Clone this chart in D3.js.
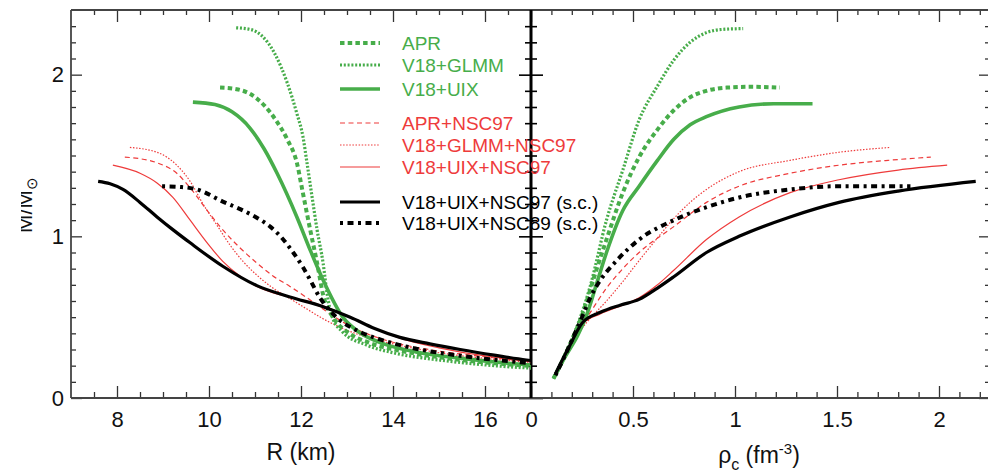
<!DOCTYPE html>
<html>
<head>
<meta charset="utf-8">
<script src="https://cdn.jsdelivr.net/npm/d3@7"></script>
<style>
  body { margin: 0; background: #fff; }
  svg { display: block; font-family: "Liberation Sans", Arial, Helvetica, sans-serif; }
</style>
</head>
<body>
<svg id="chart" width="988" height="476"></svg>
<script>
// ---- Mass–radius relations: [R (km), M/Msun] ----
const aprLeft = [[10.24,1.92],[10.6,1.91],[10.9,1.88],[11.2,1.81],[11.45,1.72],[11.7,1.6],[11.91,1.455],[12.04,1.27],[12.2,1.04],[12.35,0.835],[12.48,0.64],[12.72,0.49],[13.0,0.41],[13.5,0.34],[14.2,0.29],[15.2,0.245],[16.2,0.215],[17.5,0.19]];
const glmmLeft = [[10.59,2.29],[10.9,2.28],[11.15,2.24],[11.43,2.13],[11.7,1.95],[11.91,1.76],[12.04,1.62],[12.13,1.455],[12.24,1.245],[12.35,1.04],[12.48,0.835],[12.57,0.64],[12.68,0.5],[12.9,0.41],[13.4,0.33],[14,0.28],[15,0.235],[16,0.205],[17,0.185],[17.5,0.18]];
const uixLeft = [[9.65,1.83],[10.13,1.815],[10.5,1.77],[10.89,1.67],[11.2,1.54],[11.48,1.39],[11.91,1.12],[12.2,0.915],[12.48,0.73],[12.91,0.5],[13.3,0.4],[13.8,0.335],[14.5,0.285],[15.5,0.245],[16.5,0.215],[17.5,0.195]];
const apr97Left = [[8.17,1.49],[8.5,1.48],[8.87,1.455],[9.3,1.39],[9.59,1.3],[9.96,1.16],[10.3,1.04],[10.67,0.93],[11.04,0.835],[11.39,0.755],[11.76,0.69],[12.13,0.62],[12.48,0.55],[12.91,0.47],[13.5,0.39],[14,0.345],[15,0.29],[16,0.255],[17,0.225],[17.5,0.215]];
const glmm97Left = [[8.28,1.55],[8.87,1.52],[9.3,1.44],[9.59,1.34],[9.87,1.2],[10.17,1.07],[10.46,0.945],[10.74,0.845],[11.04,0.76],[11.39,0.68],[11.76,0.615],[12.13,0.55],[12.48,0.49],[12.91,0.43],[13.5,0.37],[14,0.335],[15,0.28],[16,0.245],[17,0.22],[17.5,0.21]];
const uix97Left = [[7.91,1.44],[8.5,1.39],[8.87,1.33],[9.22,1.24],[9.59,1.1],[9.96,0.96],[10.3,0.845],[10.67,0.755],[11.04,0.69],[11.4,0.65],[11.76,0.625],[12.48,0.57],[13.07,0.5],[13.6,0.43],[14.15,0.37],[15,0.31],[16,0.26],[17,0.23],[17.5,0.22]];
const uix97scLeft = [[7.59,1.34],[7.85,1.325],[8.13,1.29],[8.5,1.21],[8.87,1.12],[9.22,1.04],[9.59,0.96],[10.3,0.815],[11.04,0.695],[11.76,0.625],[12.48,0.565],[13.07,0.5],[13.6,0.43],[14.15,0.375],[14.8,0.335],[15.46,0.3],[16.2,0.265],[16.9,0.235],[17.5,0.22]];
const uix89scLeft = [[8.98,1.31],[9.4,1.305],[9.74,1.29],[10.3,1.215],[10.74,1.16],[11.04,1.115],[11.33,1.06],[11.6,0.985],[11.83,0.9],[12.04,0.81],[12.2,0.73],[12.4,0.625],[12.63,0.54],[12.85,0.48],[13.2,0.42],[13.8,0.355],[14.5,0.305],[15.5,0.26],[16.5,0.228],[17.5,0.205]];

// ---- Mass versus central density: [rho_c (fm^-3), M/Msun] ----
const aprRight = [[0.11,0.12],[0.18,0.3],[0.255,0.53],[0.32,0.79],[0.37,0.98],[0.45,1.27],[0.53,1.49],[0.62,1.66],[0.7,1.78],[0.78,1.86],[0.86,1.9],[0.96,1.92],[1.08,1.925],[1.22,1.92]];
const glmmRight = [[0.11,0.12],[0.17,0.28],[0.225,0.44],[0.29,0.69],[0.37,1.1],[0.45,1.41],[0.53,1.72],[0.62,1.93],[0.7,2.09],[0.78,2.2],[0.86,2.26],[0.94,2.28],[1.04,2.285]];
const uixRight = [[0.11,0.12],[0.17,0.26],[0.23,0.39],[0.275,0.52],[0.32,0.7],[0.37,0.9],[0.45,1.16],[0.53,1.31],[0.62,1.47],[0.7,1.6],[0.78,1.69],[0.86,1.74],[1.02,1.8],[1.19,1.82],[1.38,1.82]];
const apr97Right = [[0.12,0.15],[0.18,0.3],[0.23,0.42],[0.275,0.5],[0.37,0.68],[0.45,0.8],[0.53,0.9],[0.7,1.06],[0.86,1.21],[1.02,1.31],[1.27,1.39],[1.51,1.44],[1.75,1.47],[1.96,1.49]];
const glmm97Right = [[0.12,0.15],[0.18,0.3],[0.275,0.47],[0.37,0.6],[0.45,0.72],[0.53,0.85],[0.62,0.99],[0.7,1.11],[0.78,1.21],[0.86,1.29],[1.02,1.4],[1.27,1.47],[1.51,1.52],[1.76,1.55]];
const uix97Right = [[0.12,0.15],[0.18,0.3],[0.255,0.46],[0.34,0.52],[0.44,0.57],[0.53,0.62],[0.62,0.7],[0.7,0.79],[0.86,0.98],[1.02,1.12],[1.27,1.27],[1.51,1.35],[1.8,1.41],[2.04,1.44]];
const uix97scRight = [[0.12,0.15],[0.18,0.3],[0.255,0.47],[0.34,0.53],[0.44,0.575],[0.53,0.61],[0.62,0.68],[0.7,0.75],[0.86,0.9],[1.02,1.0],[1.27,1.12],[1.51,1.21],[1.8,1.28],[2.18,1.34]];
const uix89scRight = [[0.12,0.14],[0.18,0.3],[0.25,0.5],[0.29,0.62],[0.32,0.69],[0.42,0.85],[0.53,0.98],[0.7,1.1],[0.86,1.18],[1.02,1.24],[1.27,1.29],[1.51,1.31],[1.86,1.31]];

// ---- Labels and ticks ----
const seriesNames = ["APR","V18+GLMM","V18+UIX","APR+NSC97","V18+GLMM+NSC97","V18+UIX+NSC97","V18+UIX+NSC97 (s.c.)","V18+UIX+NSC89 (s.c.)"];
const radiusTicks = [8,10,12,14,16];
const densityTicks = [0,0.5,1,1.5,2];
const massTicks = [0,1,2];

// ---- Styles ----
const GREEN = "#47ad4a", RED = "#ee3b3b", BLACK = "#000";
const styles = [
  {color: GREEN, width: 4,   dash: "4.5,3.2"},
  {color: GREEN, width: 3.2, dash: "2,1.8"},
  {color: GREEN, width: 3.6, dash: null},
  {color: RED,   width: 1.2, dash: "5,3.5"},
  {color: RED,   width: 1.2, dash: "1.5,1.6"},
  {color: RED,   width: 1.2, dash: null},
  {color: BLACK, width: 3.2, dash: null},
  {color: BLACK, width: 4,   dash: "3,4.5,6,4.5"}
];
const leftData  = [aprLeft, glmmLeft, uixLeft, apr97Left, glmm97Left, uix97Left, uix97scLeft, uix89scLeft];
const rightData = [aprRight, glmmRight, uixRight, apr97Right, glmm97Right, uix97Right, uix97scRight, uix89scRight];

const svg = d3.select("#chart");
const plotTop = 10, plotBottom = 398;
const xR = d3.scaleLinear().domain([7, 17]).range([71, 531]);
const xRho = d3.scaleLinear().domain([0, 2.25]).range([531, 990]);
const y = d3.scaleLinear().domain([0, 2.4]).range([plotBottom, plotTop]);

const defs = svg.append("defs");
defs.append("clipPath").attr("id", "clipL").append("rect")
  .attr("x", xR.range()[0]).attr("y", plotTop).attr("width", xR.range()[1] - xR.range()[0]).attr("height", plotBottom - plotTop);
defs.append("clipPath").attr("id", "clipR").append("rect")
  .attr("x", xRho.range()[0]).attr("y", plotTop).attr("width", xRho.range()[1] - xRho.range()[0]).attr("height", plotBottom - plotTop);
defs.append("clipPath").attr("id", "clipLabel").append("rect")
  .attr("x", 21).attr("y", 100).attr("width", 40).attr("height", 200);

const tickColor = "#333";
function styleAxis(g) {
  g.select(".domain").remove();
  g.selectAll(".tick line").attr("stroke", tickColor).attr("stroke-width", 1.3);
  g.selectAll(".tick text").attr("fill", "#111").style("font-size", "22px")
    .style("font-family", '"Liberation Sans", Arial, sans-serif');
}
function minorRange(lo, hi, step, majors) {
  const out = [];
  for (let v = lo; v <= hi + 1e-9; v += step) {
    const r = Math.round(v * 100) / 100;
    if (!majors.some(m => Math.abs(m - r) < 1e-6)) out.push(r);
  }
  return out;
}
const rMinor = minorRange(7.5, 16.5, 0.5, radiusTicks);
const rhoMinor = minorRange(0.1, 2.2, 0.1, densityTicks);
const mMinor = minorRange(0.1, 2.3, 0.1, massTicks);

// bottom axes
svg.append("g").attr("transform", `translate(0,${plotBottom})`)
  .call(d3.axisBottom(xR).tickValues(rMinor).tickSizeInner(-6).tickSizeOuter(0).tickFormat(""))
  .call(styleAxis);
svg.append("g").attr("transform", `translate(0,${plotBottom})`)
  .call(d3.axisBottom(xR).tickValues(radiusTicks).tickSizeInner(-12).tickSizeOuter(0).tickPadding(13).tickFormat(d3.format("d")))
  .call(styleAxis);
svg.append("g").attr("transform", `translate(0,${plotBottom})`)
  .call(d3.axisBottom(xRho).tickValues(rhoMinor).tickSizeInner(-6).tickSizeOuter(0).tickFormat(""))
  .call(styleAxis);
svg.append("g").attr("transform", `translate(0,${plotBottom})`)
  .call(d3.axisBottom(xRho).tickValues(densityTicks).tickSizeInner(-12).tickSizeOuter(0).tickPadding(13).tickFormat(d3.format("")))
  .call(styleAxis);

// top axes (ticks only)
svg.append("g").attr("transform", `translate(0,${plotTop})`)
  .call(d3.axisTop(xR).tickValues(rMinor).tickSizeInner(-5).tickSizeOuter(0).tickFormat(""))
  .call(styleAxis);
svg.append("g").attr("transform", `translate(0,${plotTop})`)
  .call(d3.axisTop(xR).tickValues(radiusTicks).tickSizeInner(-12).tickSizeOuter(0).tickFormat(""))
  .call(styleAxis);
svg.append("g").attr("transform", `translate(0,${plotTop})`)
  .call(d3.axisTop(xRho).tickValues(rhoMinor).tickSizeInner(-5).tickSizeOuter(0).tickFormat(""))
  .call(styleAxis);
svg.append("g").attr("transform", `translate(0,${plotTop})`)
  .call(d3.axisTop(xRho).tickValues(densityTicks).tickSizeInner(-12).tickSizeOuter(0).tickFormat(""))
  .call(styleAxis);

// left mass axis
const xLeft = xR.range()[0];
svg.append("g").attr("transform", `translate(${xLeft},0)`)
  .call(d3.axisLeft(y).tickValues(mMinor).tickSizeInner(-5).tickSizeOuter(0).tickFormat(""))
  .call(styleAxis);
svg.append("g").attr("transform", `translate(${xLeft},0)`)
  .call(d3.axisLeft(y).tickValues(massTicks).tickSizeInner(-11).tickSizeOuter(0).tickPadding(7).tickFormat(d3.format("d")))
  .call(styleAxis);

// ticks on both sides of the panel divider
const xMid = xRho.range()[0];
[[d3.axisLeft, 6, mMinor], [d3.axisRight, 6, mMinor], [d3.axisLeft, 12, massTicks], [d3.axisRight, 12, massTicks]].forEach(([ax, len, vals]) => {
  svg.append("g").attr("transform", `translate(${xMid},0)`)
    .call(ax(y).tickValues(vals).tickSizeInner(len).tickSizeOuter(0).tickFormat(""))
    .call(styleAxis)
    .call(g => g.selectAll(".tick line").attr("stroke", "#000").attr("stroke-width", 1.6));
});

// right-hand mass axis (ticks inward)
const xRight = xRho.range()[1];
svg.append("g").attr("transform", `translate(${xRight},0)`)
  .call(d3.axisLeft(y).tickValues(mMinor).tickSizeInner(5).tickSizeOuter(0).tickFormat(""))
  .call(styleAxis);
svg.append("g").attr("transform", `translate(${xRight},0)`)
  .call(d3.axisLeft(y).tickValues(massTicks).tickSizeInner(11).tickSizeOuter(0).tickFormat(""))
  .call(styleAxis);

// frame
const frame = svg.append("g").attr("stroke", "#444").attr("stroke-width", 1.8).attr("fill", "none");
frame.append("line").attr("x1", xLeft).attr("x2", xRight).attr("y1", plotTop).attr("y2", plotTop);
frame.append("line").attr("x1", xLeft).attr("x2", xRight).attr("y1", plotBottom).attr("y2", plotBottom);
frame.append("line").attr("x1", xLeft).attr("x2", xLeft).attr("y1", plotTop).attr("y2", plotBottom);
svg.append("line").attr("x1", xMid).attr("x2", xMid).attr("y1", plotTop).attr("y2", plotBottom)
  .attr("stroke", "#000").attr("stroke-width", 3);

// curves (monotone in the horizontal coordinate keeps the branches smooth)
const lineL = d3.line().x(d => xR(d[0])).y(d => y(d[1])).curve(d3.curveMonotoneX);
const lineR = d3.line().x(d => xRho(d[0])).y(d => y(d[1])).curve(d3.curveMonotoneX);
const drawOrder = [3, 4, 5, 0, 1, 2, 7, 6];
const gL = svg.append("g").attr("clip-path", "url(#clipL)");
const gR = svg.append("g").attr("clip-path", "url(#clipR)");
drawOrder.forEach(i => {
  const s = styles[i];
  [[gL, lineL, leftData[i]], [gR, lineR, rightData[i]]].forEach(([g, ln, data]) => {
    g.append("path").datum(data)
      .attr("d", ln)
      .attr("fill", "none")
      .attr("stroke", s.color)
      .attr("stroke-width", s.width)
      .attr("stroke-dasharray", s.dash)
      .attr("stroke-linejoin", "round");
  });
});

// legend
const legendRows = [43, 65, 89, 123, 145, 167, 202, 223];
const legend = svg.append("g");
seriesNames.forEach((name, i) => {
  const s = styles[i], yy = legendRows[i];
  legend.append("line").attr("x1", 340).attr("x2", 380).attr("y1", yy).attr("y2", yy)
    .attr("stroke", s.color).attr("stroke-width", s.width).attr("stroke-dasharray", s.dash);
  legend.append("text").attr("x", 402).attr("y", yy + 7).attr("fill", s.color)
    .style("font-size", "19px").text(name);
});

// axis titles
svg.append("text").attr("x", 301).attr("y", 460).attr("text-anchor", "middle")
  .style("font-size", "23px").attr("fill", "#111").text("R (km)");
const rhoLabel = svg.append("text").attr("x", 759).attr("y", 463).attr("text-anchor", "middle")
  .style("font-size", "23px").attr("fill", "#111");
rhoLabel.append("tspan").text("ρ");
rhoLabel.append("tspan").attr("dy", 7).style("font-size", "16px").text("c");
rhoLabel.append("tspan").attr("dy", -7).text(" (fm");
rhoLabel.append("tspan").attr("dy", -9).style("font-size", "15px").text("-3");
rhoLabel.append("tspan").attr("dy", 9).text(")");

const yTitle = svg.append("g").attr("clip-path", "url(#clipLabel)")
  .append("text").attr("transform", "translate(32,205) rotate(-90)")
  .attr("text-anchor", "middle").style("font-size", "22px").attr("fill", "#111");
yTitle.append("tspan").text("M/M");
yTitle.append("tspan").attr("dy", 5).style("font-size", "15px").text("⊙");
</script>
</body>
</html>
